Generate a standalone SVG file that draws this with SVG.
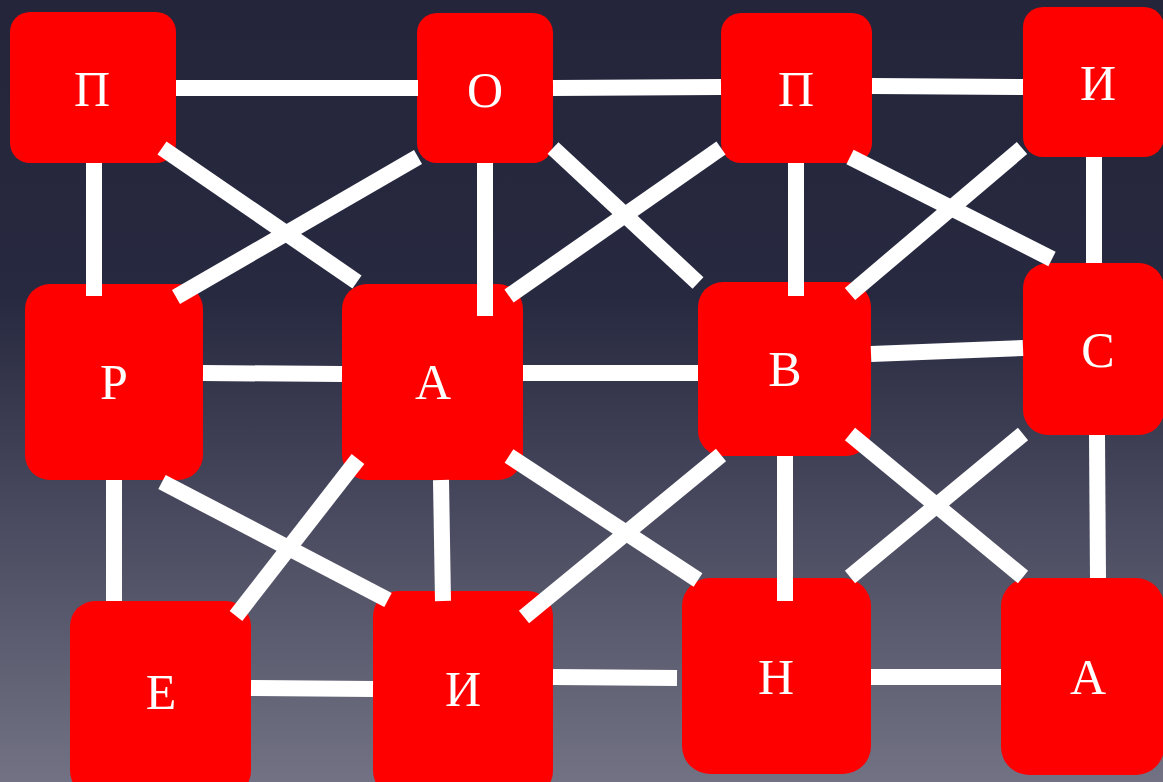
<svg xmlns="http://www.w3.org/2000/svg" width="1163" height="782" viewBox="0 0 1163 782">
<defs>
<linearGradient id="bg" x1="0" y1="0" x2="0" y2="1">
<stop offset="0" stop-color="#24253a"/>
<stop offset="0.38" stop-color="#272940"/>
<stop offset="1" stop-color="#727284"/>
</linearGradient>
</defs>
<style>
.n rect{fill:#ff0000}
.n text{fill:#ffffff;font-family:"Liberation Serif","Times New Roman",serif;font-size:50px;text-anchor:middle}
#edges line{stroke:#ffffff;stroke-width:16;stroke-linecap:butt}
</style>
<rect width="1163" height="782" fill="url(#bg)"/>
<g id="nodes">
<g id="n1" class="n"><rect x="10" y="12" width="166" height="151" rx="20"/><text x="92" y="106">П</text></g>
<g id="n2" class="n"><rect x="417" y="13" width="136" height="150" rx="20"/><text x="485" y="107">О</text></g>
<g id="n3" class="n"><rect x="721" y="13" width="151" height="150" rx="20"/><text x="796" y="106">П</text></g>
<g id="n4" class="n"><rect x="1023" y="7" width="141" height="150" rx="20"/><text x="1098" y="100">И</text></g>
<g id="n5" class="n"><rect x="25" y="284" width="178" height="196" rx="25"/><text x="114" y="399">Р</text></g>
<g id="n6" class="n"><rect x="342" y="284" width="181" height="196" rx="25"/><text x="433" y="399">А</text></g>
<g id="n7" class="n"><rect x="698" y="282" width="173" height="174" rx="25"/><text x="785" y="386">В</text></g>
<g id="n8" class="n"><rect x="1023" y="263" width="141" height="172" rx="25"/><text x="1098" y="367">С</text></g>
<g id="n9" class="n"><rect x="70" y="601" width="181" height="195" rx="25"/><text x="161" y="709">Е</text></g>
<g id="n10" class="n"><rect x="373" y="591" width="180" height="205" rx="25"/><text x="463" y="706">И</text></g>
<g id="n11" class="n"><rect x="682" y="578" width="189" height="196" rx="28"/><text x="776" y="694">Н</text></g>
<g id="n12" class="n"><rect x="1001" y="578" width="163" height="197" rx="28"/><text x="1088" y="694">А</text></g>
</g>
<g id="edges">
<line x1="176" y1="88" x2="418" y2="88"/>
<line x1="553" y1="88" x2="721" y2="87"/>
<line x1="872" y1="86" x2="1023" y2="87"/>
<line x1="94" y1="163" x2="94" y2="296"/>
<line x1="162" y1="148" x2="357" y2="282"/>
<line x1="418" y1="157" x2="176" y2="297"/>
<line x1="485" y1="163" x2="485" y2="316"/>
<line x1="553" y1="148" x2="698" y2="283"/>
<line x1="721" y1="148" x2="509" y2="296"/>
<line x1="796" y1="163" x2="796" y2="296"/>
<line x1="850" y1="157" x2="1052" y2="259"/>
<line x1="1022" y1="148" x2="850" y2="294"/>
<line x1="1094" y1="157" x2="1094" y2="263"/>
<line x1="203" y1="373" x2="342" y2="374"/>
<line x1="523" y1="373" x2="698" y2="373"/>
<line x1="871" y1="354" x2="1023" y2="348"/>
<line x1="114" y1="480" x2="114" y2="601"/>
<line x1="162" y1="482" x2="388" y2="600"/>
<line x1="358" y1="459" x2="236" y2="616"/>
<line x1="441" y1="480" x2="443" y2="601"/>
<line x1="509" y1="456" x2="698" y2="580"/>
<line x1="721" y1="455" x2="524" y2="617"/>
<line x1="785" y1="456" x2="785" y2="601"/>
<line x1="850" y1="434" x2="1023" y2="577"/>
<line x1="1023" y1="434" x2="850" y2="577"/>
<line x1="1097" y1="435" x2="1098" y2="578"/>
<line x1="251" y1="688" x2="373" y2="689"/>
<line x1="553" y1="677" x2="677" y2="678"/>
<line x1="871" y1="677" x2="1001" y2="677"/>
</g>
</svg>
